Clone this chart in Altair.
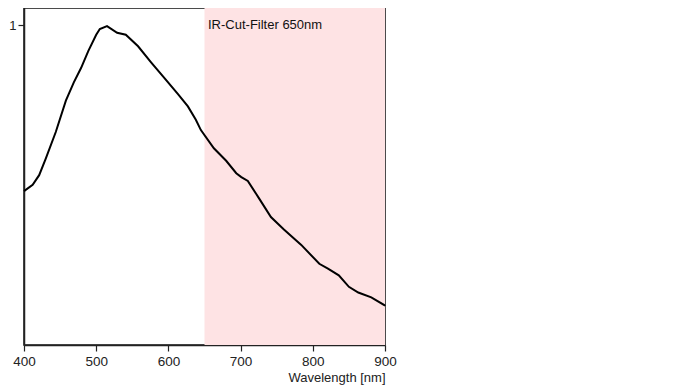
import altair as alt
import pandas as pd

wavelength = [400, 412, 421, 430, 444, 458, 469, 479, 489, 500, 505, 515, 529, 541,
              558, 576, 594, 613, 627, 638, 645, 663, 680, 694, 701, 710, 726, 742,
              760, 784, 809, 821, 836, 850, 863, 881, 899, 900]
response = [0.481, 0.501, 0.531, 0.582, 0.666, 0.764, 0.821, 0.866, 0.919, 0.970, 0.988,
            0.997, 0.976, 0.970, 0.934, 0.884, 0.836, 0.785, 0.746, 0.704, 0.672, 0.615,
            0.576, 0.537, 0.525, 0.513, 0.457, 0.400, 0.361, 0.313, 0.254, 0.239, 0.218,
            0.182, 0.164, 0.149, 0.125, 0.122]

filter_start = [650]
filter_end = [900]
filter_label = ["IR-Cut-Filter 650nm"]
x_ticks = [400, 500, 600, 700, 800, 900]
y_ticks = [1]

df = pd.DataFrame({"wl": wavelength, "r": response})
band = pd.DataFrame({"a": filter_start, "b": filter_end, "label": filter_label})

xscale = alt.Scale(domain=[400, 900], nice=False, zero=False)
yscale = alt.Scale(domain=[0, 1.0537], nice=False, zero=False)

H = 337

rect = alt.Chart(band).mark_rect(color="#fee3e4").encode(
    x=alt.X("a:Q", scale=xscale,
            axis=alt.Axis(values=x_ticks, grid=False, title="Wavelength [nm]",
                          titleAnchor="end", titleFontWeight="normal", titleFontSize=13,
                          titleColor="#222", titlePadding=4, labelPadding=3,
                          labelFlush=False, labelFontSize=13.5, labelColor="#222",
                          domainColor="#222", ticks=True,
                          tickColor="#222", domainWidth=1.5, tickWidth=1.2, tickSize=6,
                          labelFont="Liberation Sans", titleFont="Liberation Sans")),
    x2="b:Q",
)

text = alt.Chart(band).mark_text(align="left", baseline="alphabetic", fontSize=13,
                                 font="Liberation Sans", color="#111").encode(
    x=alt.value(184), y=alt.value(21), text="label:N"
)

line = alt.Chart(df).mark_line(color="black", strokeWidth=2).encode(
    x=alt.X("wl:Q", scale=xscale),
    y=alt.Y("r:Q", scale=yscale,
            axis=alt.Axis(values=y_ticks, grid=False, title=None, format="d",
                          labelFontSize=13, labelColor="#222", domainColor="#222",
                          tickColor="#222", domainWidth=1.5, tickWidth=1.2, tickSize=6,
                          labelFont="Liberation Sans")),
)

chart = alt.layer(rect, line, text).properties(
    width=361, height=H, padding=0
).configure_view(stroke="#111", strokeWidth=1.5)

chart.save("out.html", embed_options={"renderer": "svg", "actions": False})
